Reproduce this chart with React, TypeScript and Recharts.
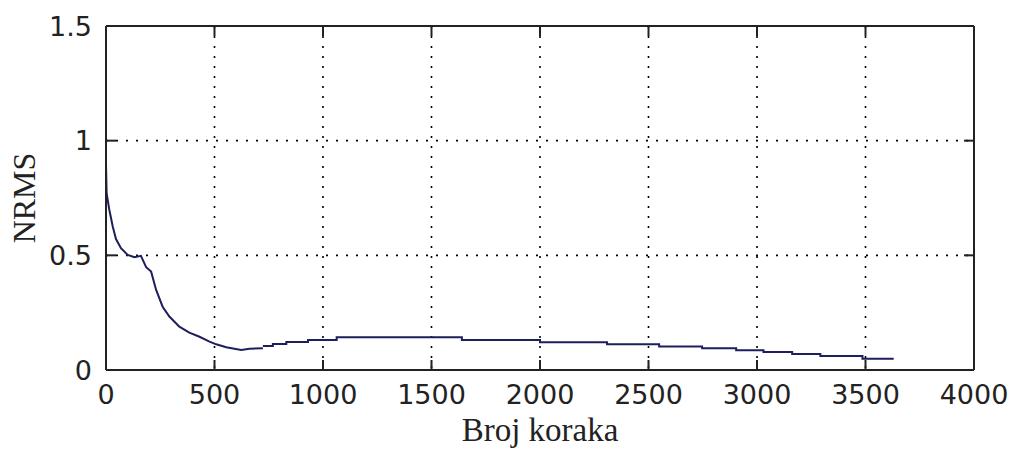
import { LineChart, Line, XAxis, YAxis, CartesianGrid } from "recharts";

// x: broj koraka, y: NRMS
const earlySteps = [0, 3, 15, 31, 46, 69, 100, 131, 161, 185, 208, 231, 261, 292, 338, 384, 431, 477, 508, 554, 623, 661, 723];
const earlyNrms = [0.895, 0.77, 0.7, 0.626, 0.571, 0.531, 0.502, 0.492, 0.498, 0.448, 0.429, 0.349, 0.276, 0.233, 0.189, 0.163, 0.145, 0.124, 0.112, 0.099, 0.087, 0.093, 0.095];

const lateSteps = [723, 769, 831, 931, 1063, 1640, 2000, 2309, 2549, 2747, 2904, 3030, 3162, 3292, 3486, 3630];
const lateNrms = [0.105, 0.113, 0.122, 0.131, 0.143, 0.131, 0.121, 0.112, 0.103, 0.095, 0.086, 0.079, 0.07, 0.061, 0.049, 0.049];

const xTicks = [0, 500, 1000, 1500, 2000, 2500, 3000, 3500, 4000];
const yTicks = [0, 0.5, 1, 1.5];

const early = earlySteps.map((step, i) => ({ step, nrms: earlyNrms[i] }));
const late = lateSteps.map((step, i) => ({ step, nrms: lateNrms[i] }));

const ink = "#222";
const lineColor = "#1e1e5c";
const tickFamily = "'DejaVu Sans', Verdana, sans-serif";
const tickSize = 27;
const labelFont = { fontFamily: "'Liberation Serif', 'Times New Roman', serif", fontSize: 33, fill: ink };
const markLen = 10;
const xGap = 15;
const yGap = 14;

const BottomTick = (p: any) => (
  <text x={p.x} y={p.y} dy="0.72em" textAnchor="middle" fontFamily={tickFamily} fontSize={tickSize} fill={ink}>
    {p.payload.value}
  </text>
);

const LeftTick = (p: any) => (
  <text x={p.x} y={p.y} dy="0.36em" textAnchor="end" fontFamily={tickFamily} fontSize={tickSize} fill={ink}>
    {p.payload.value}
  </text>
);

// dotted grid line plus MATLAB-style inward tick marks at both ends
const VGrid = (p: any) => (
  <g key={p.key}>
    <line x1={p.x1} x2={p.x2} y1={p.y1} y2={p.y2} stroke="#000" strokeWidth={1.6} strokeDasharray="2 8" />
    <line x1={p.x1} x2={p.x1} y1={p.y1} y2={p.y1 + markLen} stroke={ink} strokeWidth={2} />
    <line x1={p.x1} x2={p.x1} y1={p.y2} y2={p.y2 - markLen} stroke={ink} strokeWidth={2} />
  </g>
);

const HGrid = (p: any) => (
  <g key={p.key}>
    <line x1={p.x1} x2={p.x2} y1={p.y1} y2={p.y2} stroke="#000" strokeWidth={1.6} strokeDasharray="2 8" />
    <line x1={p.x1} x2={p.x1 + markLen} y1={p.y1} y2={p.y1} stroke={ink} strokeWidth={2} />
    <line x1={p.x2} x2={p.x2 - markLen} y1={p.y1} y2={p.y1} stroke={ink} strokeWidth={2} />
  </g>
);

export default function App() {
  return (
    <div style={{ width: 1011, height: 450, background: "#fff" }}>
      <style>{`body{margin:0}`}</style>
      <LineChart width={1011} height={450} margin={{ top: 25, right: 36, bottom: 0, left: 0 }}>
        <CartesianGrid xAxisId="bottom" yAxisId="left" vertical={VGrid} horizontal={HGrid} />
        <XAxis
          xAxisId="bottom"
          dataKey="step"
          type="number"
          domain={[0, 4000]}
          ticks={xTicks}
          interval={0}
          height={80}
          tickSize={0}
          tickMargin={xGap}
          tick={BottomTick}
          tickLine={false}
          axisLine={{ stroke: ink, strokeWidth: 2 }}
          label={{ value: "Broj koraka", position: "insideBottom", offset: 9, style: labelFont }}
        />
        <XAxis
          xAxisId="top"
          orientation="top"
          dataKey="step"
          type="number"
          domain={[0, 4000]}
          ticks={xTicks}
          height={1}
          tick={false}
          tickLine={false}
          axisLine={{ stroke: ink, strokeWidth: 2 }}
        />
        <YAxis
          yAxisId="left"
          type="number"
          domain={[0, 1.5]}
          ticks={yTicks}
          interval={0}
          width={106}
          tickSize={0}
          tickMargin={yGap}
          tick={LeftTick}
          tickLine={false}
          axisLine={{ stroke: ink, strokeWidth: 2 }}
          label={{ value: "NRMS", angle: -90, position: "insideLeft", offset: 24, style: { ...labelFont, fontSize: 32, textAnchor: "middle" } }}
        />
        <YAxis
          yAxisId="right"
          orientation="right"
          type="number"
          domain={[0, 1.5]}
          ticks={yTicks}
          width={1}
          tick={false}
          tickLine={false}
          axisLine={{ stroke: ink, strokeWidth: 2 }}
        />
        <Line
          xAxisId="bottom"
          yAxisId="left"
          data={early}
          dataKey="nrms"
          type="linear"
          stroke={lineColor}
          strokeWidth={2}
          dot={false}
          isAnimationActive={false}
        />
        <Line
          xAxisId="bottom"
          yAxisId="left"
          data={late}
          dataKey="nrms"
          type="stepAfter"
          stroke={lineColor}
          strokeWidth={2}
          dot={false}
          isAnimationActive={false}
        />
      </LineChart>
    </div>
  );
}
